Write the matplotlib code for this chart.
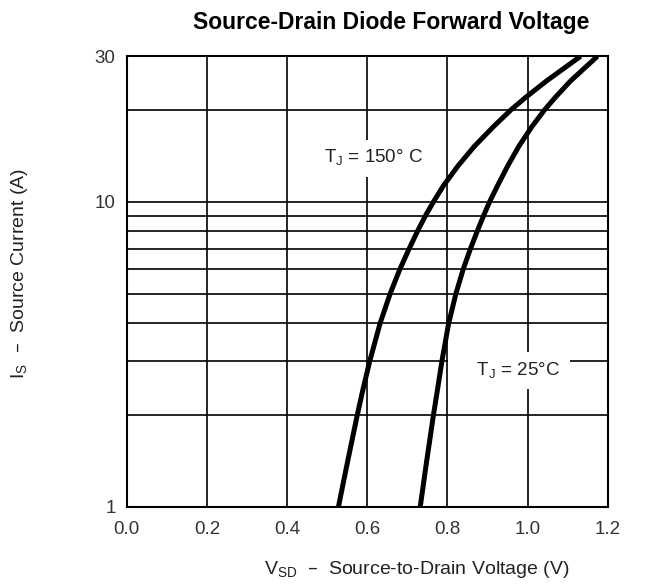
import numpy as np
import matplotlib.pyplot as plt
from matplotlib.ticker import FixedLocator, NullFormatter

# Tj = 150 C curve (left)
v_150 = [0.528, 0.551, 0.575, 0.589, 0.606, 0.632, 0.657, 0.681, 0.704, 0.725, 0.745,
         0.765, 0.790, 0.826, 0.867, 0.914, 0.958, 0.995, 1.047, 1.132]
i_150 = [1, 1.41, 2, 2.42, 3, 4, 5, 6, 7, 8, 9,
         10, 11.3, 13.1, 15.2, 17.6, 20, 22.0, 24.9, 30]

# Tj = 25 C curve (right)
v_25 = [0.732, 0.748, 0.765, 0.775, 0.786, 0.803, 0.821, 0.839, 0.857, 0.874, 0.890,
        0.905, 0.925, 0.950, 0.978, 1.010, 1.042, 1.069, 1.107, 1.174]
i_25 = [1, 1.41, 2, 2.42, 3, 4, 5, 6, 7, 8, 9,
        10, 11.3, 13.1, 15.2, 17.6, 20, 22.0, 24.9, 30]

x_ticks = [0.0, 0.2, 0.4, 0.6, 0.8, 1.0, 1.2]
y_ticks = [1, 10, 30]
y_grid = [2, 3, 4, 5, 6, 7, 8, 9, 20]

plt.rcParams['font.family'] = ['Liberation Sans', 'DejaVu Sans']

fig = plt.figure(figsize=(6.6, 5.86), dpi=100)
ax = fig.add_axes([0.192, 0.135, 0.729, 0.769])

ax.set_yscale('log')
ax.set_xlim(0, 1.2)
ax.set_ylim(1, 30)

ax.xaxis.set_major_locator(FixedLocator(x_ticks))
ax.yaxis.set_major_locator(FixedLocator(y_ticks))
ax.yaxis.set_minor_locator(FixedLocator(y_grid))
ax.yaxis.set_minor_formatter(NullFormatter())
ax.set_xticklabels(['%.1f' % t for t in x_ticks])
ax.set_yticklabels([str(t) for t in y_ticks])

ax.grid(True, which='both', color='black', linewidth=1.2, zorder=1)
ax.set_axisbelow(True)
ax.tick_params(which='both', length=0, labelsize=13.5, labelcolor='#333333')
ax.tick_params(axis='x', pad=10)
ax.tick_params(axis='y', pad=8)
for s in ax.spines.values():
    s.set_linewidth(1.5)

ax.plot(v_150, i_150, color='black', linewidth=3.6, zorder=4, solid_capstyle='butt')
ax.plot(v_25, i_25, color='black', linewidth=3.6, zorder=4, solid_capstyle='butt')

ax.text(0.616, 13.9, r'T$_\mathregular{J}$ = 150° C', fontsize=13.5, ha='center', va='center',
        color='#222222', bbox=dict(facecolor='white', edgecolor='none', pad=6), zorder=3)
ax.text(0.953, 2.80, r'    T$_\mathregular{J}$ = 25°C ', fontsize=13.5, ha='center', va='center',
        color='#222222', bbox=dict(facecolor='white', edgecolor='none', pad=6), zorder=5)

fig.text(0.592, 0.962, 'Source-Drain Diode Forward Voltage', ha='center', va='center',
         fontsize=16.5, fontweight='bold')
ax.set_xlabel(r'V$_\mathregular{SD}$  –  Source-to-Drain Voltage (V)', fontsize=14,
              color='#222222', va='center')
ax.xaxis.set_label_coords(0.603, -0.14)
ax.set_ylabel(r'I$_\mathregular{S}$  –  Source Current (A)', fontsize=14,
              color='#222222', va='center')
ax.yaxis.set_label_coords(-0.222, 0.517)

fig.savefig('out.png', dpi=100)
